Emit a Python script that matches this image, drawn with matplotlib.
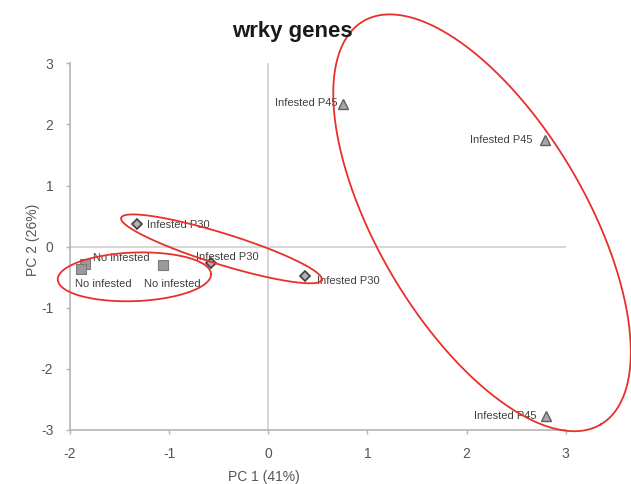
import numpy as np
import matplotlib
matplotlib.use("Agg")
import matplotlib.pyplot as plt

plt.rcParams['font.family'] = ['Liberation Sans', 'DejaVu Sans']
plt.rcParams['axes.unicode_minus'] = False

# ---- data ----
p45_x = [0.757, 2.79, 2.80]
p45_y = [2.33, 1.745, -2.77]
p45_labels = ["Infested P45", "Infested P45", "Infested P45"]

p30_x = [-1.328, -0.578, 0.370]
p30_y = [0.365, -0.262, -0.481]
p30_labels = ["Infested P30", "Infested P30", "Infested P30"]

noinf_x = [-1.85, -1.893, -1.06]
noinf_y = [-0.29, -0.372, -0.306]
noinf_labels = ["No infested", "No infested", "No infested"]

x_ticks = [-2, -1, 0, 1, 2, 3]
y_ticks = [-3, -2, -1, 0, 1, 2, 3]

# label offsets in pixels (dx, dy, ha)
p45_off = [(-6, 1, 'right'), (-12, 0, 'right'), (-9, 0, 'right')]
p30_off = [(10, -1, 'left'), (-15, 6, 'left'), (12, -5, 'left')]
noinf_off = [(8, 6, 'left'), (-6, -15, 'left'), (-19, -19, 'left')]

# ellipses: center (data), semi-axes (px), angle (deg, clockwise in screen)
ellipses = [((2.156, 0.39), 234, 104, 59.5),
            ((-0.472, -0.036), 105, 15.6, 17.2),
            ((-1.350, -0.494), 76.7, 24.3, -2.1)]

fig = plt.figure(figsize=(6.31, 4.84), dpi=100)
ax = fig.add_axes([0.1109, 0.1116, 0.7856, 0.7576])
ax.set_xlim(-2, 3)
ax.set_ylim(-3, 3)

axis_gray = '#b4b4b4'
ax.axhline(0, color='#d0d0d0', lw=1.2, zorder=1)
ax.axvline(0, color='#d0d0d0', lw=1.2, zorder=1)

for s in ['top', 'right']:
    ax.spines[s].set_visible(False)
for s in ['left', 'bottom']:
    ax.spines[s].set_color(axis_gray)
    ax.spines[s].set_linewidth(1.2)

ax.set_xticks(x_ticks)
ax.set_yticks(y_ticks)
ax.tick_params(axis='both', colors=axis_gray, length=3, width=1, labelsize=10,
               labelcolor='#555555')
ax.tick_params(axis='x', pad=9)
ax.tick_params(axis='y', pad=9)

xl = ax.set_xlabel("PC 1 (41%)", fontsize=10, color='#555555')
yl = ax.set_ylabel("PC 2 (26%)", fontsize=10, color='#555555')
xl.set_va('center')
yl.set_va('center')
ax.xaxis.set_label_coords((264 - 70) / 496, (430 - 477) / 367)
ax.yaxis.set_label_coords((33 - 70) / 496, (430 - 240) / 367)

fig.text(292 / 631, 1 - 31 / 484, "wrky genes", fontsize=16, fontweight='bold',
         ha='center', va='center', color='#1a1a1a')

mk = dict(linestyle='none', markerfacecolor='#a8a8a8', markeredgecolor='#606060',
          markeredgewidth=1.0, zorder=3)
ax.plot(p45_x, p45_y, marker='^', markersize=7.5, **mk)
ax.plot(p30_x, p30_y, marker='D', markersize=5.5, markerfacecolor='#b0b0b0',
        markeredgecolor='#404040', markeredgewidth=1.2, linestyle='none', zorder=3)
ax.plot(noinf_x, noinf_y, marker='s', markersize=7.5, linestyle='none',
        markerfacecolor='#9a9a9a', markeredgecolor='#7a7a7a', markeredgewidth=0.8, zorder=3)

for xs, ys, labs, offs in [(p45_x, p45_y, p45_labels, p45_off),
                           (p30_x, p30_y, p30_labels, p30_off),
                           (noinf_x, noinf_y, noinf_labels, noinf_off)]:
    for x, y, lab, (dx, dy, ha) in zip(xs, ys, labs, offs):
        ax.annotate(lab, (x, y), xytext=(dx, dy), textcoords='offset pixels',
                    ha=ha, va='center', fontsize=8, color='#404040', zorder=4)

# ellipses drawn in screen-pixel geometry
sx = ax.bbox.width / 5.0
sy = ax.bbox.height / 6.0
t = np.linspace(0, 2 * np.pi, 400)
for (cx, cy), a, b, ang in ellipses:
    phi = np.deg2rad(ang)
    px = a * np.cos(phi) * np.cos(t) - b * np.sin(phi) * np.sin(t)
    py = a * np.sin(phi) * np.cos(t) + b * np.cos(phi) * np.sin(t)
    ax.plot(cx + px / sx, cy - py / sy, color='#e8302a', lw=1.3, clip_on=False, zorder=5)

fig.savefig("out.png", dpi=100)
